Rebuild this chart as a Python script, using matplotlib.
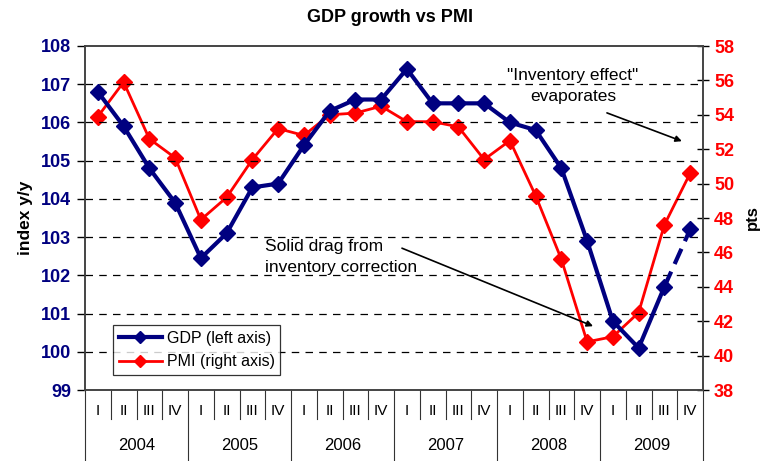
import matplotlib
matplotlib.use("Agg")
import matplotlib.pyplot as plt
import matplotlib.transforms as mtransforms
from matplotlib.lines import Line2D

plt.rcParams['font.family'] = ['Liberation Sans', 'DejaVu Sans']

years = ["2004", "2005", "2006", "2007", "2008", "2009"]
quarters = ["I", "II", "III", "IV"]
gdp = [106.8, 105.9, 104.8, 103.9, 102.45, 103.1, 104.3, 104.4,
       105.4, 106.3, 106.6, 106.6, 107.4, 106.5, 106.5, 106.5,
       106.0, 105.8, 104.8, 102.9, 100.8, 100.1, 101.7, 103.2]
pmi = [53.9, 55.9, 52.6, 51.5, 47.9, 49.2, 51.4, 53.2,
       52.8, 54.0, 54.1, 54.5, 53.6, 53.6, 53.3, 51.4,
       52.5, 49.3, 45.6, 40.8, 41.1, 42.5, 47.6, 50.6]
left_ticks = [99, 100, 101, 102, 103, 104, 105, 106, 107, 108]
right_ticks = [38, 40, 42, 44, 46, 48, 50, 52, 54, 56, 58]

navy = "#000080"
red = "#FF0000"

fig = plt.figure(figsize=(7.65, 4.61), dpi=100)
ax = fig.add_axes([85/765, 71/461, 618/765, 344/461])
ax2 = ax.twinx()

n = len(gdp)
x = list(range(n))

ax.set_xlim(-0.5, n - 0.5)
ax.set_ylim(99, 108)
ax2.set_ylim(38, 58)

# grid
for v in left_ticks[1:-1]:
    ax.axhline(v, color="black", lw=0.9, dashes=(6, 5), zorder=0)

# lines
ax2.plot(x, pmi, color=red, lw=2.0, marker="D", ms=8, mec=red, mfc=red, zorder=3)
ax.plot(x[:-1], gdp[:-1], color=navy, lw=3.0, marker="D", ms=8, mec=navy, mfc=navy, zorder=4)
ax.plot(x[-2:], gdp[-2:], color=navy, lw=3.0, dashes=(4, 2), zorder=4)
ax.plot(x[-1:], gdp[-1:], color=navy, lw=0, marker="D", ms=8, mec=navy, mfc=navy, zorder=4)
ax.set_zorder(ax2.get_zorder() + 1)
ax.patch.set_visible(False)

# y axes
ax.set_yticks(left_ticks)
ax.set_yticklabels([str(t) for t in left_ticks], color=navy, fontsize=13, fontweight="bold")
ax.tick_params(axis="y", direction="out", length=6, width=1, pad=4)
ax2.set_yticks(right_ticks)
ax2.set_yticklabels([str(t) for t in right_ticks], color=red, fontsize=13, fontweight="bold")
ax2.tick_params(axis="y", direction="inout", length=8, width=1, pad=4)
ax.set_ylabel("index y/y", fontsize=12.5, fontweight="bold", labelpad=6)
ax2.set_ylabel("pts", fontsize=12, fontweight="bold", labelpad=8)

for a in (ax, ax2):
    for s in a.spines.values():
        s.set_color("#444444")
        s.set_linewidth(1.2)

# x axis categories
ax.set_xticks(x)
ax.set_xticklabels([quarters[i % 4] for i in x], fontsize=11)
ax.tick_params(axis="x", length=0, pad=10)
ax2.tick_params(axis="x", length=0)

trans = mtransforms.blended_transform_factory(ax.transData, ax.transAxes)
for b in range(n + 1):
    xb = b - 0.5
    ymin = -0.21 if b % 4 == 0 else -0.085
    ax.add_line(Line2D([xb, xb], [0, ymin], transform=trans, color="#333333",
                       lw=0.8, clip_on=False))
for k, yr in enumerate(years):
    ax.text(4 * k + 1.5, -0.16, yr, transform=trans, ha="center", va="center",
            fontsize=12)

# title
fig.text(0.51, 0.962, "GDP growth vs PMI", ha="center", va="center",
         fontsize=13, fontweight="bold")

# annotations
arrow_kw = dict(arrowstyle="-|>", color="black", lw=1.2, shrinkA=0, shrinkB=0,
                mutation_scale=9)
ax.text(18.45, 106.95, "\"Inventory effect\"\nevaporates", ha="center", va="center",
        fontsize=12.5, linespacing=1.45)
ax.annotate("", xy=(22.68, 105.51), xytext=(19.77, 106.25), arrowprops=arrow_kw,
            annotation_clip=False)
ax.text(6.49, 102.49, "Solid drag from\ninventory correction", ha="left", va="center",
        fontsize=12.5, linespacing=1.5)
ax.annotate("", xy=(19.23, 100.67), xytext=(11.81, 102.71), arrowprops=arrow_kw,
            annotation_clip=False)

# legend
h1 = Line2D([], [], color=navy, lw=3.0, marker="D", ms=6, mec=navy, mfc=navy)
h2 = Line2D([], [], color=red, lw=2.0, marker="D", ms=6, mec=red, mfc=red)
leg = ax.legend([h1, h2], ["GDP (left axis)", "PMI (right axis)"],
                loc="lower left", bbox_to_anchor=(28/618, 15/344), fontsize=11.5,
                frameon=True, fancybox=False, edgecolor="black", handlelength=2.7,
                handletextpad=0.3, borderpad=0.35, labelspacing=0.55, borderaxespad=0)
leg.get_frame().set_linewidth(0.9)

fig.savefig("out.png", dpi=100)
